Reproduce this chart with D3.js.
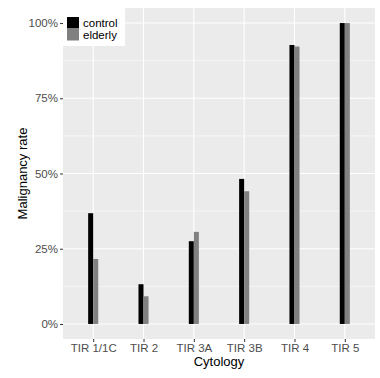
<!DOCTYPE html>
<html>
<head>
<meta charset="utf-8">
<script src="https://cdn.jsdelivr.net/npm/d3@7"></script>
<style>
  body { margin: 0; background: #fff; }
  text { font-family: "Liberation Sans", Arial, sans-serif; }
</style>
</head>
<body>
<div id="chart"></div>
<script>
// chart data
const categories = ["TIR 1/1C", "TIR 2", "TIR 3A", "TIR 3B", "TIR 4", "TIR 5"];
const groups = ["control", "elderly"];
const control = [0.368, 0.132, 0.275, 0.482, 0.927, 1.0];
const elderly = [0.216, 0.092, 0.306, 0.441, 0.922, 1.0];
const yTicks = [0, 0.25, 0.5, 0.75, 1];
const yMinor = [0.125, 0.375, 0.625, 0.875];

const width = 380, height = 378;
const panel = { left: 63, right: 375, top: 8, bottom: 339 };
const colors = { control: "#000000", elderly: "#808080" };

let svg = d3.select("#chart").append("svg")
    .attr("width", width)
    .attr("height", height);

let x = d3.scalePoint()
    .domain(categories)
    .range([panel.left, panel.right])
    .padding(0.6);

let y = d3.scaleLinear()
    .domain([-0.05, 1.05])
    .range([panel.bottom, panel.top]);

/*
 *  Panel background and grid.
 */
svg.append("rect")
    .attr("x", panel.left)
    .attr("y", panel.top)
    .attr("width", panel.right - panel.left)
    .attr("height", panel.bottom - panel.top)
    .attr("fill", "#ebebeb");

svg.append("g").selectAll("line")
    .data(yMinor)
    .join("line")
    .attr("x1", panel.left).attr("x2", panel.right)
    .attr("y1", d => y(d)).attr("y2", d => y(d))
    .attr("stroke", "#fff").attr("stroke-width", 0.55);

svg.append("g").selectAll("line")
    .data(yTicks)
    .join("line")
    .attr("x1", panel.left).attr("x2", panel.right)
    .attr("y1", d => y(d)).attr("y2", d => y(d))
    .attr("stroke", "#fff").attr("stroke-width", 1.1);

svg.append("g").selectAll("line")
    .data(categories)
    .join("line")
    .attr("x1", d => x(d)).attr("x2", d => x(d))
    .attr("y1", panel.top).attr("y2", panel.bottom)
    .attr("stroke", "#fff").attr("stroke-width", 1.1);

/*
 *  Dodged bars.
 */
let barW = x.step() * 0.1;
let series = [control, elderly];

groups.forEach((g, gi) => {
    svg.append("g").selectAll("rect")
        .data(categories)
        .join("rect")
        .attr("x", d => x(d) - barW + gi * barW)
        .attr("y", (d, i) => y(series[gi][i]))
        .attr("width", barW)
        .attr("height", (d, i) => y(0) - y(series[gi][i]))
        .attr("fill", colors[g]);
});

/*
 *  Axes.
 */
let yAxis = svg.append("g")
    .attr("transform", "translate(" + panel.left + ",0)")
    .call(d3.axisLeft(y).tickValues(yTicks).tickFormat(d3.format(".0%")).tickSize(3).tickPadding(2));
yAxis.select(".domain").remove();
yAxis.selectAll(".tick line").attr("stroke", "#333");
yAxis.selectAll(".tick text").attr("fill", "#4d4d4d").style("font-size", "11.5px");

let xAxis = svg.append("g")
    .attr("transform", "translate(0," + panel.bottom + ")")
    .call(d3.axisBottom(x).tickSize(3).tickPadding(2));
xAxis.select(".domain").remove();
xAxis.selectAll(".tick line").attr("stroke", "#333");
xAxis.selectAll(".tick text").attr("fill", "#4d4d4d").style("font-size", "11.5px");

svg.append("text")
    .attr("x", (panel.left + panel.right) / 2)
    .attr("y", 366)
    .attr("text-anchor", "middle")
    .style("font-size", "13px")
    .attr("fill", "#000")
    .text("Cytology");

svg.append("text")
    .attr("transform", "translate(27," + (panel.top + panel.bottom) / 2 + ") rotate(-90)")
    .attr("text-anchor", "middle")
    .style("font-size", "13px")
    .attr("fill", "#000")
    .text("Malignancy rate");

/*
 *  Legend inside the panel.
 */
let legend = svg.append("g");
legend.append("rect")
    .attr("x", panel.left)
    .attr("y", panel.top)
    .attr("width", 62)
    .attr("height", 38)
    .attr("fill", "#fff");

groups.forEach((g, gi) => {
    legend.append("rect")
        .attr("x", 67)
        .attr("y", 17 + gi * 12)
        .attr("width", 12)
        .attr("height", 11.5)
        .attr("fill", colors[g]);
    legend.append("text")
        .attr("x", 83)
        .attr("y", 23 + gi * 12)
        .attr("dy", "0.35em")
        .style("font-size", "11.5px")
        .attr("fill", "#000")
        .text(g);
});
</script>
</body>
</html>
